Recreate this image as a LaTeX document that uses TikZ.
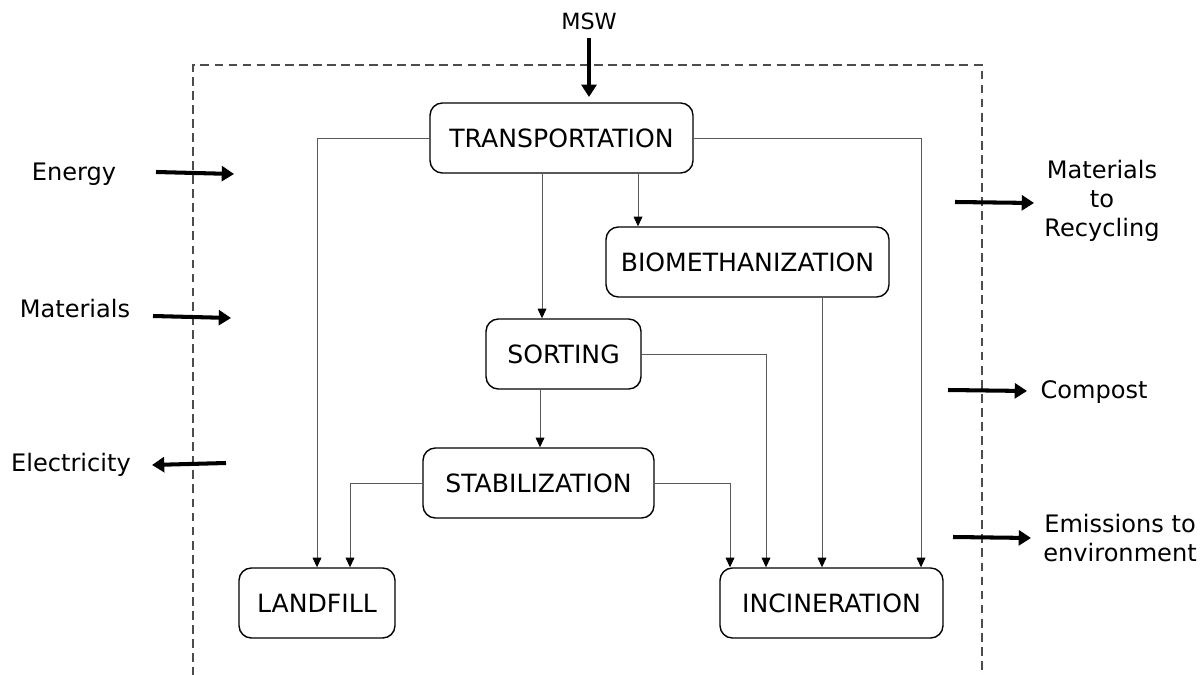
\documentclass[tikz,border=0pt]{standalone}
\usepackage{fontspec}
\setmainfont{DejaVu Sans}
\usetikzlibrary{arrows.meta}
\begin{document}
\begin{tikzpicture}[x=0.02cm,y=-0.02cm,
  box/.style={draw=black,line width=0.8pt,rounded corners=7pt,inner sep=0pt,minimum height=1.4cm,font=\fontsize{14.3}{17}\selectfont},
  conn/.style={draw=black!65,line width=0.5pt,-{Triangle[length=5.5pt,width=5pt,fill=black,color=black]}},
  bigarrow/.style={draw=black,line width=2.3pt,-{Triangle[length=7pt,width=8.5pt]}},
  lbl/.style={font=\fontsize{13.7}{16.5}\selectfont,align=center,inner sep=0pt},
  frame/.style={draw=black!70,line width=0.8pt,dash pattern=on 5pt off 3pt}]
\useasboundingbox (0,0) rectangle (1202,675);
\fill[white] (0,0) rectangle (1202,675);
% frame
\draw[frame] (193,676) -- (193,65) -- (982,65) -- (982,676);
% boxes
\node[box,minimum width=5.26cm] (trans) at (561.5,138) {TRANSPORTATION};
\node[box,minimum width=5.66cm] (bio) at (747.5,262) {BIOMETHANIZATION};
\node[box,minimum width=3.1cm] (sort) at (563.5,354) {SORTING};
\node[box,minimum width=4.62cm] (stab) at (538.5,483) {STABILIZATION};
\node[box,minimum width=3.12cm] (land) at (317,603) {LANDFILL};
\node[box,minimum width=4.46cm] (inc) at (831.5,603) {INCINERATION};
% connectors
\draw[conn] (trans.west) -| (land.north);
\draw[conn] (trans.east) -| (921,0 |- inc.north);
\draw[conn] (542,0 |- trans.south) -- (542,0 |- sort.north);
\draw[conn] (638,0 |- trans.south) -- (638,0 |- bio.north);
\draw[conn] (540,0 |- sort.south) -- (540,0 |- stab.north);
\draw[conn] (822,0 |- bio.south) -- (822,0 |- inc.north);
\draw[conn] (sort.east) -| (766,0 |- inc.north);
\draw[conn] (stab.east) -| (730,0 |- inc.north);
\draw[conn] (stab.west) -| (350,0 |- land.north);
% MSW
\node[lbl,font=\fontsize{12.7}{15}\selectfont] (msw) at (589,21) {MSW};
\coordinate (mswend) at (589,97);
\draw[bigarrow] (589,0 |- msw.south) ++(0,8) -- (mswend);
% left labels
\node[lbl] (energy) at (74,174) {Energy};
\node[lbl] (mat) at (75,309) {Materials};
\node[lbl] (elec) at (71,465) {Electricity};
\coordinate (e1) at (156,172); \coordinate (e2) at (234,174);
\coordinate (m1) at (153,316); \coordinate (m2) at (231,318);
\coordinate (l1) at (226,463); \coordinate (l2) at (152,465);
\draw[bigarrow] (e1) -- (e2);
\draw[bigarrow] (m1) -- (m2);
\draw[bigarrow] (l1) -- (l2);
% right labels
\node[lbl] (recyc) at (1102,201) {Materials\\to\\Recycling};
\node[lbl] (compost) at (1094,392) {Compost};
\node[lbl] (emis) at (1120,538) {Emissions to\\environment};
\coordinate (r1) at (955,202); \coordinate (r2) at (1034,203);
\coordinate (c1) at (948,390); \coordinate (c2) at (1027,391);
\coordinate (s1) at (953,537); \coordinate (s2) at (1031,538);
\draw[bigarrow] (r1) -- (r2);
\draw[bigarrow] (c1) -- (c2);
\draw[bigarrow] (s1) -- (s2);
\end{tikzpicture}
\end{document}
